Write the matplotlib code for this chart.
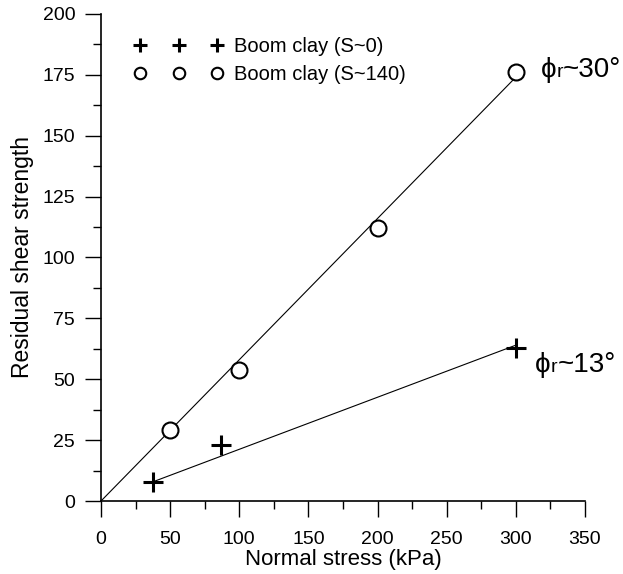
import matplotlib
matplotlib.use("Agg")
import matplotlib.pyplot as plt
from matplotlib.ticker import MultipleLocator
from matplotlib.offsetbox import TextArea, HPacker, AnnotationBbox

plt.rcParams['font.family'] = ['Liberation Sans', 'DejaVu Sans']

# Boom clay, suction ~0
x_s0 = [38, 87, 300]
y_s0 = [8, 23, 63]
# Boom clay, suction ~140
x_s140 = [50, 100, 200, 300]
y_s140 = [29, 54, 112, 176]

# fitted lines
fit_s0_x = [38, 300]
fit_s0_y = [8, 64]
fit_s140_x = [0, 300]
fit_s140_y = [0, 174]

angle_labels = [('~30°', 318, 177), ('~13°', 314, 56)]

fig = plt.figure(figsize=(6.23, 5.74), dpi=100)
ax = fig.add_axes([0.162, 0.127, 0.777, 0.849])

ax.plot(fit_s140_x, fit_s140_y, color='black', lw=0.8)
ax.plot(fit_s0_x, fit_s0_y, color='black', lw=0.8)
ax.plot(x_s0, y_s0, ls='none', marker='+', ms=14.5, mew=2.2, color='black',
        label='Boom clay (S~0)')
ax.plot(x_s140, y_s140, ls='none', marker='o', ms=11.5, mew=1.5,
        mfc='white', mec='black', label='Boom clay (S~140)')

for txt, tx, ty in angle_labels:
    box = HPacker(children=[TextArea('ϕ', textprops=dict(fontsize=20)),
                            TextArea('r', textprops=dict(fontsize=14)),
                            TextArea(txt, textprops=dict(fontsize=20))],
                  align='baseline', pad=0, sep=0)
    ab = AnnotationBbox(box, (tx, ty), xycoords='data', box_alignment=(0, 0.5),
                        frameon=False, pad=0)
    ax.add_artist(ab)

ax.set_xlim(0, 350)
ax.set_ylim(0, 200)
ax.xaxis.set_major_locator(MultipleLocator(50))
ax.xaxis.set_minor_locator(MultipleLocator(25))
ax.yaxis.set_major_locator(MultipleLocator(25))
ax.yaxis.set_minor_locator(MultipleLocator(12.5))
ax.tick_params(which='major', direction='out', length=11.5, width=1.0,
               labelsize=14)
ax.tick_params(axis='x', which='major', pad=10)
ax.tick_params(axis='y', which='major', pad=7)
ax.tick_params(which='minor', direction='out', length=5.5, width=1.0)
for s in ['top', 'right']:
    ax.spines[s].set_visible(False)
ax.spines['left'].set_linewidth(1.2)
ax.spines['bottom'].set_linewidth(1.2)

ax.set_xlabel('Normal stress (kPa)', fontsize=16, labelpad=1)
ax.set_ylabel('Residual shear strength', fontsize=16.5, labelpad=6)

ax.legend(loc='upper left', bbox_to_anchor=(0.068, 0.952), frameon=False,
          numpoints=3, handlelength=4.45, handletextpad=0.5, fontsize=14.5,
          borderaxespad=0, borderpad=0, labelspacing=0.45, markerscale=0.72)

fig.savefig('out.png', dpi=100)
